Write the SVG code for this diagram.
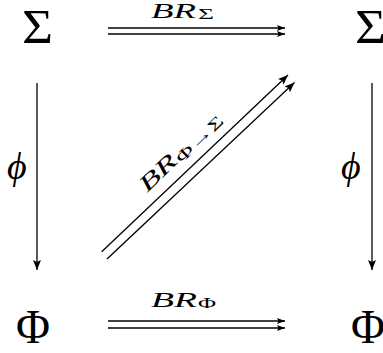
<svg xmlns="http://www.w3.org/2000/svg" width="383" height="353" viewBox="0 0 383 353">
<style>
.obj{font-family:"Liberation Serif","Times New Roman",serif;fill:#000}
.lbl{font-family:"Liberation Serif","Times New Roman",serif;font-style:italic;fill:#000}
.ln{stroke:#000;stroke-width:1.3;fill:none}
</style>
<defs>
<marker id="ah" markerUnits="userSpaceOnUse" markerWidth="12" markerHeight="10" refX="8" refY="3" orient="auto" viewBox="0 0 12 10">
<path d="M0,0 L8,3 L0,6 L1.5,3 z" fill="#000"/>
</marker>
<marker id="ahL" markerUnits="userSpaceOnUse" markerWidth="14" markerHeight="12" refX="10" refY="4" orient="auto" viewBox="0 0 14 12">
<path d="M0,0 L10,4 L0,8 L2,4 z" fill="#000"/>
</marker>
</defs>
<g id="sigma-left"><text class="obj" x="22" y="43" font-size="48" textLength="31" lengthAdjust="spacingAndGlyphs">Σ</text></g>
<g id="sigma-right"><text class="obj" x="355" y="43" font-size="48" textLength="31" lengthAdjust="spacingAndGlyphs">Σ</text></g>
<g id="phi-left"><text class="obj" x="16" y="343" font-size="48" textLength="34" lengthAdjust="spacingAndGlyphs">Φ</text></g>
<g id="phi-right"><text class="obj" x="351" y="343" font-size="48" textLength="34" lengthAdjust="spacingAndGlyphs">Φ</text></g>
<g id="connectors">
<line class="ln" x1="108" y1="28" x2="285" y2="28" marker-end="url(#ah)"/>
<line class="ln" x1="108" y1="34" x2="285" y2="34" marker-end="url(#ah)"/>
<line class="ln" x1="108" y1="321" x2="285" y2="321" marker-end="url(#ah)"/>
<line class="ln" x1="108" y1="328" x2="285" y2="328" marker-end="url(#ah)"/>
<line class="ln" x1="37" y1="83" x2="37" y2="270" marker-end="url(#ahL)"/>
<line class="ln" x1="372" y1="83" x2="372" y2="270" marker-end="url(#ahL)"/>
<line class="ln" x1="101.7" y1="251.7" x2="288" y2="75" marker-end="url(#ahL)"/>
<line class="ln" x1="107" y1="259" x2="294.5" y2="82.5" marker-end="url(#ahL)"/>
<text class="lbl" x="151" y="18" font-size="21" textLength="45" lengthAdjust="spacingAndGlyphs">BR</text>
<text class="obj" x="198" y="19" font-size="14" textLength="16" lengthAdjust="spacingAndGlyphs">Σ</text>
<text class="lbl" x="151" y="307" font-size="21" textLength="46" lengthAdjust="spacingAndGlyphs">BR</text>
<text class="obj" x="198" y="308" font-size="14" textLength="18" lengthAdjust="spacingAndGlyphs">Φ</text>
<g transform="translate(147,193) rotate(-44)">
<text class="lbl" x="0" y="0" font-size="22" textLength="44" lengthAdjust="spacingAndGlyphs">BR</text>
<text class="obj" x="45" y="3" font-size="16" textLength="60" lengthAdjust="spacingAndGlyphs">Φ→Σ</text>
</g>
<text class="lbl" x="7" y="179" font-size="38">ϕ</text>
<text class="lbl" x="341" y="179" font-size="38">ϕ</text>
</g>
</svg>
